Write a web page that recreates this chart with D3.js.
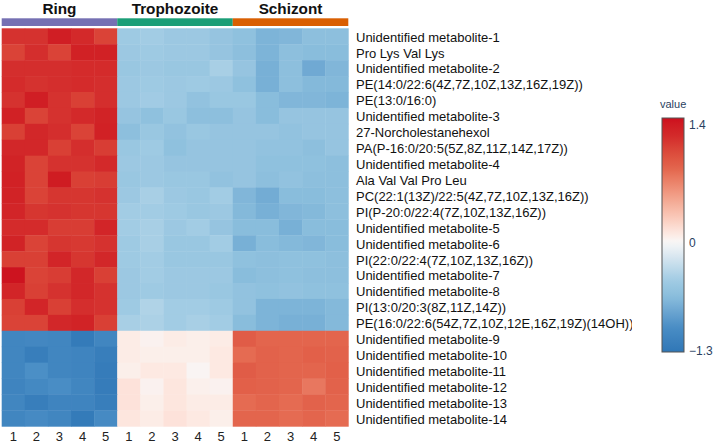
<!DOCTYPE html>
<html>
<head>
<meta charset="utf-8">
<script src="https://cdn.jsdelivr.net/npm/d3@7"></script>
<style>
  html, body { margin: 0; padding: 0; background: #fff; }
  svg { display: block; font-family: "Liberation Sans", Arial, sans-serif; }
</style>
</head>
<body>
<svg id="chart" width="716" height="443"></svg>
<script>
// ---------- DATA ----------
const groups = ["Ring", "Trophozoite", "Schizont"];
const groupColors = ["#7570b3", "#1b9e77", "#d95f02"];
const replicateLabels = ["1", "2", "3", "4", "5"];
const rowLabels = [
  "Unidentified metabolite-1",
  "Pro Lys Val Lys",
  "Unidentified metabolite-2",
  "PE(14:0/22:6(4Z,7Z,10Z,13Z,16Z,19Z))",
  "PE(13:0/16:0)",
  "Unidentified metabolite-3",
  "27-Norcholestanehexol",
  "PA(P-16:0/20:5(5Z,8Z,11Z,14Z,17Z))",
  "Unidentified metabolite-4",
  "Ala Val Val Pro Leu",
  "PC(22:1(13Z)/22:5(4Z,7Z,10Z,13Z,16Z))",
  "PI(P-20:0/22:4(7Z,10Z,13Z,16Z))",
  "Unidentified metabolite-5",
  "Unidentified metabolite-6",
  "PI(22:0/22:4(7Z,10Z,13Z,16Z))",
  "Unidentified metabolite-7",
  "Unidentified metabolite-8",
  "PI(13:0/20:3(8Z,11Z,14Z))",
  "PE(16:0/22:6(54Z,7Z,10Z,12E,16Z,19Z)(14OH))",
  "Unidentified metabolite-9",
  "Unidentified metabolite-10",
  "Unidentified metabolite-11",
  "Unidentified metabolite-12",
  "Unidentified metabolite-13",
  "Unidentified metabolite-14"
];
const ringValues = [
  [1.22, 1.22, 1.38, 1.28, 1.12],
  [1.12, 1.24, 1.12, 1.36, 1.36],
  [1.24, 1.24, 1.24, 1.26, 1.26],
  [1.26, 1.22, 1.24, 1.26, 1.24],
  [1.22, 1.38, 1.22, 1.14, 1.24],
  [1.36, 1.12, 1.22, 1.28, 1.34],
  [1.14, 1.30, 1.24, 1.12, 1.36],
  [1.30, 1.30, 1.14, 1.24, 1.16],
  [1.34, 1.12, 1.22, 1.22, 1.28],
  [1.36, 1.12, 1.40, 1.14, 1.16],
  [1.34, 1.12, 1.20, 1.20, 1.22],
  [1.32, 1.20, 1.22, 1.20, 1.20],
  [1.26, 1.26, 1.16, 1.16, 1.32],
  [1.34, 1.12, 1.20, 1.18, 1.22],
  [1.14, 1.14, 1.32, 1.20, 1.30],
  [1.46, 1.12, 1.16, 1.30, 1.14],
  [1.32, 1.14, 1.22, 1.30, 1.22],
  [1.14, 1.32, 1.14, 1.24, 1.22],
  [1.12, 1.12, 1.30, 1.34, 1.14],
  [-1.12, -1.10, -1.12, -1.26, -1.12],
  [-1.12, -1.22, -1.12, -1.14, -1.22],
  [-1.12, -1.00, -1.12, -1.14, -1.24],
  [-1.14, -1.08, -1.02, -1.12, -1.24],
  [-1.12, -1.22, -1.14, -1.14, -1.22],
  [-1.12, -1.06, -1.12, -1.26, -1.06]
];
const trophozoiteValues = [
  [-0.48, -0.45, -0.50, -0.50, -0.55],
  [-0.50, -0.48, -0.50, -0.50, -0.55],
  [-0.52, -0.50, -0.52, -0.52, -0.42],
  [-0.50, -0.48, -0.50, -0.48, -0.50],
  [-0.50, -0.46, -0.50, -0.58, -0.52],
  [-0.55, -0.60, -0.52, -0.62, -0.62],
  [-0.62, -0.52, -0.58, -0.52, -0.55],
  [-0.52, -0.48, -0.60, -0.55, -0.55],
  [-0.50, -0.50, -0.55, -0.55, -0.55],
  [-0.52, -0.50, -0.52, -0.52, -0.58],
  [-0.50, -0.42, -0.50, -0.52, -0.45],
  [-0.45, -0.45, -0.48, -0.52, -0.50],
  [-0.45, -0.42, -0.50, -0.45, -0.55],
  [-0.48, -0.42, -0.52, -0.52, -0.45],
  [-0.48, -0.45, -0.52, -0.52, -0.52],
  [-0.50, -0.45, -0.50, -0.50, -0.50],
  [-0.50, -0.48, -0.50, -0.50, -0.52],
  [-0.48, -0.38, -0.45, -0.45, -0.48],
  [-0.42, -0.40, -0.45, -0.42, -0.45],
  [0.08, 0.04, 0.08, 0.06, 0.08],
  [0.08, 0.06, 0.06, 0.06, 0.10],
  [0.06, 0.10, 0.10, 0.02, 0.10],
  [0.14, 0.04, 0.12, 0.05, 0.04],
  [0.14, 0.06, 0.12, 0.08, 0.08],
  [0.12, 0.08, 0.14, 0.10, 0.06]
];
const schizontValues = [
  [-0.60, -0.72, -0.70, -0.62, -0.62],
  [-0.62, -0.72, -0.62, -0.65, -0.65],
  [-0.55, -0.75, -0.62, -0.80, -0.70],
  [-0.60, -0.75, -0.62, -0.68, -0.68],
  [-0.52, -0.65, -0.70, -0.70, -0.72],
  [-0.55, -0.65, -0.55, -0.55, -0.55],
  [-0.55, -0.55, -0.58, -0.55, -0.55],
  [-0.55, -0.58, -0.58, -0.62, -0.55],
  [-0.55, -0.60, -0.60, -0.60, -0.62],
  [-0.55, -0.62, -0.58, -0.62, -0.62],
  [-0.70, -0.78, -0.65, -0.65, -0.62],
  [-0.68, -0.75, -0.70, -0.68, -0.62],
  [-0.65, -0.65, -0.75, -0.65, -0.65],
  [-0.75, -0.65, -0.68, -0.70, -0.65],
  [-0.60, -0.62, -0.60, -0.60, -0.62],
  [-0.65, -0.62, -0.60, -0.62, -0.62],
  [-0.58, -0.60, -0.58, -0.60, -0.60],
  [-0.58, -0.72, -0.72, -0.72, -0.68],
  [-0.65, -0.72, -0.75, -0.75, -0.68],
  [0.95, 0.88, 0.88, 0.88, 0.88],
  [0.85, 0.90, 0.88, 0.92, 0.90],
  [0.95, 0.90, 0.88, 0.88, 0.92],
  [0.92, 0.90, 0.88, 0.78, 0.90],
  [0.85, 0.88, 0.85, 0.90, 0.88],
  [0.88, 0.88, 0.85, 0.88, 0.85]
];
const legendTicks = [-1.3, 0, 1.4];
const legendTitle = "value";

// ---------- BUILD ----------
const groupValues = [ringValues, trophozoiteValues, schizontValues];
const columns = [];
groups.forEach((g, gi) => replicateLabels.forEach((r, ri) => columns.push({ id: g + "_" + r, group: gi, rep: ri, label: r })));
const cells = [];
rowLabels.forEach((rl, i) => columns.forEach(c => cells.push({ row: rl, col: c.id, value: groupValues[c.group][i][c.rep] })));

const svg = d3.select("#chart");
const defs = svg.append("defs");

const x = d3.scaleBand().domain(columns.map(c => c.id)).range([1.7, 348.3]).padding(0);
const y = d3.scaleBand().domain(rowLabels).range([28.3, 426.3]).padding(0);

const color = d3.scaleLinear()
  .domain([-1.32, -1.0, -0.65, -0.45, 0, 0.1, 0.5, 0.88, 1.25, 1.5])
  .range(["#2e76b6", "#4b8fc6", "#89bddc", "#a2cce4", "#f8f7f7", "#fde9e2", "#f3a892", "#e3654d", "#d42c2c", "#cc0a1c"])
  .interpolate(d3.interpolateLab)
  .clamp(true);

// cells
svg.append("g").selectAll("rect").data(cells).join("rect")
  .attr("x", d => x(d.col))
  .attr("y", d => y(d.row))
  .attr("width", x.bandwidth() + 0.4)
  .attr("height", y.bandwidth() + 0.4)
  .attr("fill", d => color(d.value));

// group annotation bar
const groupSpan = groups.map((g, gi) => {
  const ids = columns.filter(c => c.group === gi).map(c => c.id);
  return { name: g, color: groupColors[gi], x0: x(ids[0]), x1: x(ids[ids.length - 1]) + x.bandwidth() };
});
svg.append("g").selectAll("rect").data(groupSpan).join("rect")
  .attr("x", d => d.x0).attr("y", 18.3)
  .attr("width", d => d.x1 - d.x0).attr("height", 7.7)
  .attr("fill", d => d.color);
svg.append("g").selectAll("text").data(groupSpan).join("text")
  .attr("x", d => (d.x0 + d.x1) / 2).attr("y", 13.5)
  .attr("text-anchor", "middle")
  .attr("font-size", 15.3).attr("font-weight", "bold").attr("fill", "#111")
  .text(d => d.name);

// row labels (clipped at the right like the original)
defs.append("clipPath").attr("id", "lblclip")
  .append("rect").attr("x", 350).attr("y", 0).attr("width", 282).attr("height", 443);
const yAxis = d3.axisRight(y).tickSize(0).tickPadding(0);
const clipG = svg.append("g").attr("clip-path", "url(#lblclip)");
const yg = clipG.append("g").attr("transform", "translate(356,1.2)").call(yAxis);
yg.select(".domain").remove();
yg.selectAll("text").attr("font-size", 13).attr("fill", "#111").attr("font-family", "Liberation Sans, Arial, sans-serif").attr("x", 0);

// column labels
const xAxis = d3.axisBottom(x).tickSize(0).tickPadding(0).tickFormat(id => columns.find(c => c.id === id).label);
const xg = svg.append("g").attr("transform", "translate(0,432)").call(xAxis);
xg.select(".domain").remove();
xg.selectAll("text").attr("font-size", 13).attr("fill", "#222").attr("font-family", "Liberation Sans, Arial, sans-serif");

// legend
const lg = svg.append("g");
const ly = d3.scaleLinear().domain([-1.3, 1.4]).range([351, 125]);
const lTop = 118, lBottom = 352, lX = 662, lW = 22;
const grad = defs.append("linearGradient").attr("id", "lgrad")
  .attr("x1", 0).attr("y1", 1).attr("x2", 0).attr("y2", 0);
const vMin = ly.invert(lBottom), vMax = ly.invert(lTop);
d3.range(0, 41).forEach(i => {
  const t = i / 40;
  grad.append("stop").attr("offset", t).attr("stop-color", color(vMin + t * (vMax - vMin)));
});
lg.append("rect").attr("x", lX).attr("y", lTop).attr("width", lW).attr("height", lBottom - lTop)
  .attr("fill", "url(#lgrad)").attr("stroke", "#555").attr("stroke-width", 1);
const lAxis = d3.axisRight(ly).tickValues(legendTicks).tickSize(0).tickPadding(5)
  .tickFormat(d => d === 0 ? "0" : d3.format(".1f")(d));
const la = lg.append("g").attr("transform", `translate(${lX + lW},0)`).call(lAxis);
la.select(".domain").remove();
la.selectAll("text").attr("font-size", 12).attr("fill", "#2a3f5f").attr("font-family", "Liberation Sans, Arial, sans-serif");
lg.append("text").attr("x", 660).attr("y", 108).attr("font-size", 11).attr("fill", "#2a3f5f").text(legendTitle);
</script>
</body>
</html>
